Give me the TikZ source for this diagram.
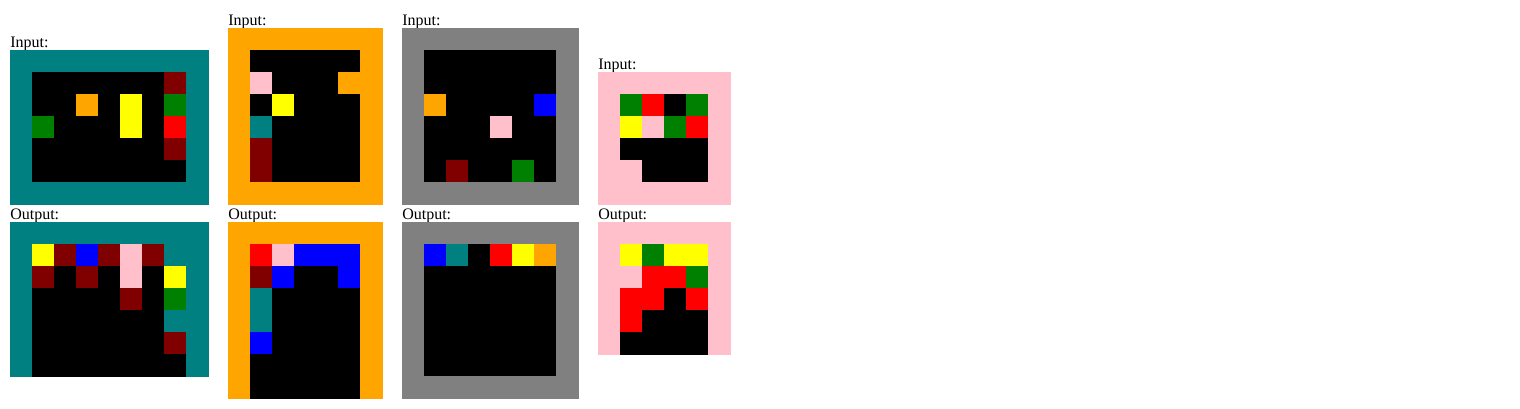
\documentclass[tikz,border=0pt]{standalone}
\usepackage{fontspec}
\setmainfont{Liberation Serif}
\usepackage{tikz}
\usetikzlibrary{%
	calc,%
	positioning
}

\definecolor{cellK}{HTML}{000000}
\definecolor{cellT}{HTML}{008080}
\definecolor{cellM}{HTML}{800000}
\definecolor{cellO}{HTML}{FFA500}
\definecolor{cellY}{HTML}{FFFF00}
\definecolor{cellG}{HTML}{008000}
\definecolor{cellR}{HTML}{FF0000}
\definecolor{cellB}{HTML}{0000FF}
\definecolor{cellP}{HTML}{FFC0CB}
\definecolor{cellS}{HTML}{808080}

% one grid: x, y of its top left corner, then its rows
\newcommand{\arcgrid}[3]{%
	\foreach \row [count=\r from 0] in {#3}
	\foreach \c [count=\k from 0] in \row
	\path[fill=cell\c, draw=cell\c, line width=0.2pt]
		(#1+\k*22, #2+\r*22) rectangle ++(22,22);
}

\begin{document}
\begin{tikzpicture}[x=0.75pt, y=-0.75pt,
	lbl/.style={anchor=base west, inner sep=0pt, font=\fontsize{12}{14}\selectfont}]
				\useasboundingbox (0,0) rectangle (1520,408);
				% first pair
				\node[lbl] (in1) at (10,47) {Input:};
				\arcgrid{10}{50}{{T,T,T,T,T,T,T,T,T},{T,K,K,K,K,K,K,M,T},{T,K,K,O,K,Y,K,G,T},{T,G,K,K,K,Y,K,R,T},{T,K,K,K,K,K,K,M,T},{T,K,K,K,K,K,K,K,T},{T,T,T,T,T,T,T,T,T}}
				\node[lbl] (out1) at (10,219) {Output:};
				\arcgrid{10}{222}{{T,T,T,T,T,T,T,T,T},{T,Y,M,B,M,P,M,T,T},{T,M,K,M,K,P,K,Y,T},{T,K,K,K,K,M,K,G,T},{T,K,K,K,K,K,K,T,T},{T,K,K,K,K,K,K,M,T},{T,K,K,K,K,K,K,K,T}}
				% second pair
				\node[lbl] (in2) at (228,25) {Input:};
				\arcgrid{228}{28}{{O,O,O,O,O,O,O},{O,K,K,K,K,K,O},{O,P,K,K,K,O,O},{O,K,Y,K,K,K,O},{O,T,K,K,K,K,O},{O,M,K,K,K,K,O},{O,M,K,K,K,K,O},{O,O,O,O,O,O,O}}
				\node[lbl] (out2) at (228,219) {Output:};
				\arcgrid{228}{222}{{O,O,O,O,O,O,O},{O,R,P,B,B,B,O},{O,M,B,K,K,B,O},{O,T,K,K,K,K,O},{O,T,K,K,K,K,O},{O,B,K,K,K,K,O},{O,K,K,K,K,K,O},{O,K,K,K,K,K,O}}
				% third pair
				\node[lbl] (in3) at (402,25) {Input:};
				\arcgrid{402}{28}{{S,S,S,S,S,S,S,S},{S,K,K,K,K,K,K,S},{S,K,K,K,K,K,K,S},{S,O,K,K,K,K,B,S},{S,K,K,K,P,K,K,S},{S,K,K,K,K,K,K,S},{S,K,M,K,K,G,K,S},{S,S,S,S,S,S,S,S}}
				\node[lbl] (out3) at (402,219) {Output:};
				\arcgrid{402}{222}{{S,S,S,S,S,S,S,S},{S,B,T,K,R,Y,O,S},{S,K,K,K,K,K,K,S},{S,K,K,K,K,K,K,S},{S,K,K,K,K,K,K,S},{S,K,K,K,K,K,K,S},{S,K,K,K,K,K,K,S},{S,S,S,S,S,S,S,S}}
				% fourth pair
				\node[lbl] (in4) at (598,69) {Input:};
				\arcgrid{598}{72}{{P,P,P,P,P,P},{P,G,R,K,G,P},{P,Y,P,G,R,P},{P,K,K,K,K,P},{P,P,K,K,K,P},{P,P,P,P,P,P}}
				\node[lbl] (out4) at (598,219) {Output:};
				\arcgrid{598}{222}{{P,P,P,P,P,P},{P,Y,G,Y,Y,P},{P,P,R,R,G,P},{P,R,R,K,R,P},{P,R,K,K,K,P},{P,K,K,K,K,P}}
			\end{tikzpicture}
\end{document}
